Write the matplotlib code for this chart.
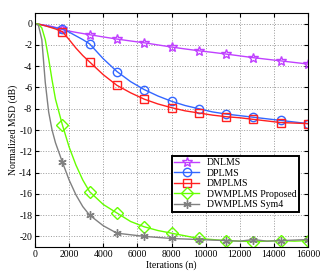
import matplotlib
matplotlib.use('Agg')
import matplotlib.pyplot as plt

plt.rcParams['font.family'] = ['Liberation Serif', 'DejaVu Serif']
plt.rcParams['font.size'] = 7

iters = [0, 200, 400, 600, 800, 1000, 1200, 1600, 2000, 2400, 2800, 3200, 4000, 4800,
         5600, 6400, 7200, 8000, 8800, 9600, 10400, 11200, 12000, 12800, 13600,
         14400, 15200, 16000]
mark_idx = [7, 11, 13, 15, 17, 19, 21, 23, 25, 27]

dnlms = [0, -0.05, -0.1, -0.15, -0.2, -0.27, -0.35, -0.55, -0.7, -0.82, -0.93, -1.04,
         -1.25, -1.45, -1.63, -1.8, -2.0, -2.2, -2.38, -2.55, -2.7, -2.86, -3.03, -3.2,
         -3.35, -3.5, -3.65, -3.8]
dplms = [0, -0.05, -0.12, -0.2, -0.27, -0.33, -0.4, -0.5, -0.8, -1.15, -1.5, -1.9,
         -3.3, -4.5, -5.45, -6.2, -6.8, -7.3, -7.7, -8.0, -8.3, -8.5, -8.65, -8.8,
         -8.95, -9.1, -9.25, -9.4]
dmplms = [0, -0.05, -0.12, -0.2, -0.3, -0.4, -0.5, -0.75, -1.5, -2.3, -3.0, -3.6,
          -4.8, -5.8, -6.5, -7.1, -7.55, -7.9, -8.2, -8.4, -8.6, -8.75, -8.85, -9.0,
          -9.15, -9.3, -9.35, -9.4]
dwmplms = [0, -0.05, -0.4, -1.5, -3.3, -5.3, -7.1, -9.5, -11.6, -13.3, -14.7, -15.8,
           -17.0, -17.8, -18.6, -19.1, -19.45, -19.7, -19.95, -20.2, -20.3, -20.4,
           -20.45, -20.5, -20.45, -20.4, -20.45, -20.4]
sym4 = [0, -0.15, -1.5, -5.5, -8.3, -10.0, -11.2, -13.0, -14.7, -16.1, -17.2, -18.0,
        -19.0, -19.7, -19.85, -20.0, -20.1, -20.2, -20.25, -20.3, -20.35, -20.4,
        -20.45, -20.3, -20.45, -20.4, -20.35, -20.3]

fig = plt.figure(figsize=(3.22, 2.73), dpi=100)
ax = fig.add_axes([35/322, 1 - 247/273, 273/322, 234/273])

ax.plot(iters, dnlms, color='#c040ff', lw=1, marker='*', ms=7, mfc='none',
        markevery=mark_idx, label='DNLMS')
ax.plot(iters, dplms, color='#3366ff', lw=1, marker='o', ms=6, mfc='none',
        markevery=mark_idx, label='DPLMS')
ax.plot(iters, dmplms, color='#ff2020', lw=1, marker='s', ms=6, mfc='none',
        markevery=mark_idx, label='DMPLMS')
ax.plot(iters, dwmplms, color='#66ff00', lw=1, marker='D', ms=6, mfc='none',
        markevery=mark_idx, label='DWMPLMS Proposed')
ax.plot(iters, sym4, color='#808080', lw=1, marker=(6, 2, 0), ms=6,
        markevery=mark_idx, label='DWMPLMS Sym4')

ax.set_xlim(0, 16000)
ax.set_ylim(-21, 1)
ax.set_xticks(range(0, 16001, 2000))
ax.set_yticks(range(-20, 1, 2))
ax.set_yticklabels([str(v) for v in range(-20, 1, 2)])
ax.tick_params(direction='in', top=True, right=True, length=3, pad=2)
ax.grid(True, linestyle=':', color='#999999', lw=0.7)
ax.set_xlabel('Iterations (n)', labelpad=1)
ax.set_ylabel('Normalized MSD (dB)', labelpad=1)

leg = ax.legend(loc='lower right', bbox_to_anchor=(0.985, 0.128), fancybox=False,
                framealpha=1, edgecolor='black', borderpad=0.3, labelspacing=0.15,
                handlelength=2.5, fontsize=7)
leg.get_frame().set_linewidth(1.4)

fig.savefig('out.png', dpi=100)
